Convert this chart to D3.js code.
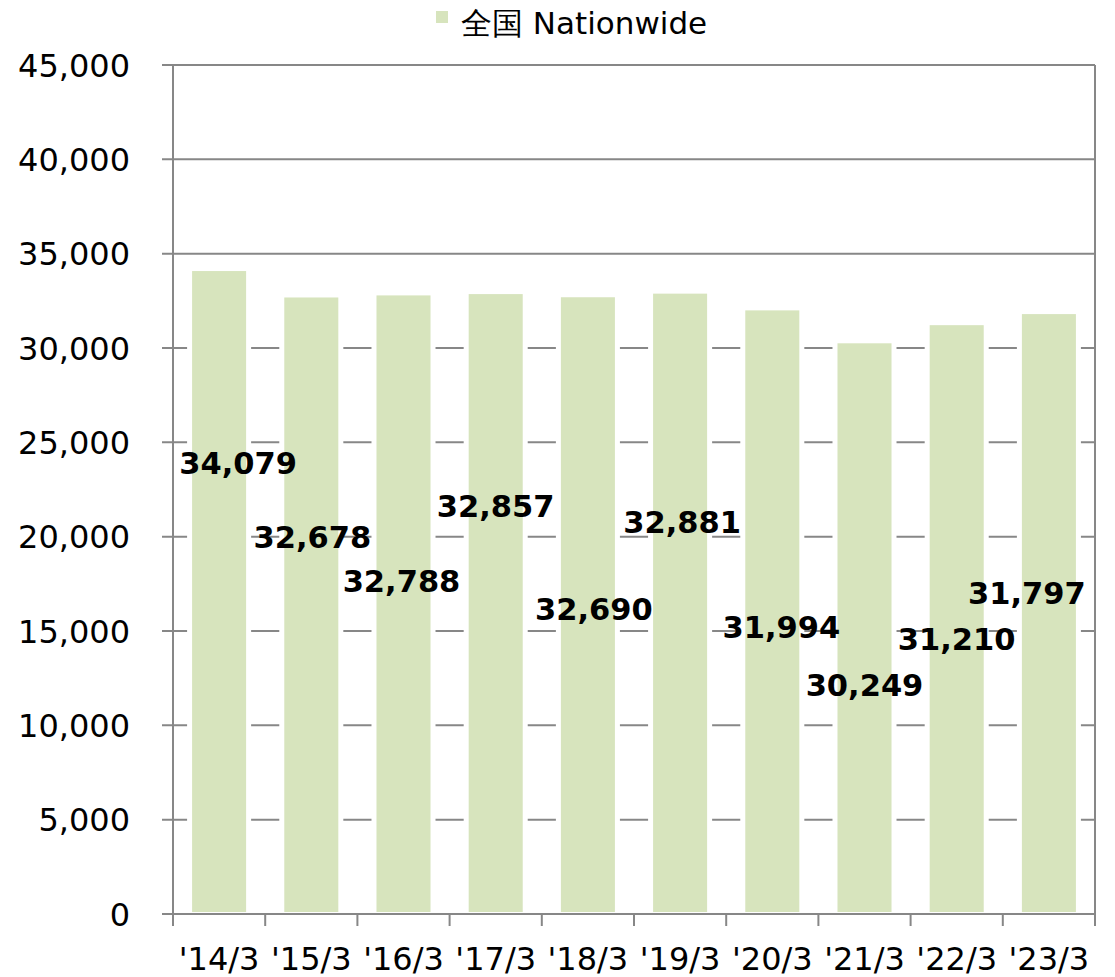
<!DOCTYPE html>
<html>
<head>
<meta charset="utf-8">
<script src="https://cdn.jsdelivr.net/npm/d3@7"></script>
<style>
    body { margin: 0; background: #fff; }
    svg { display: block; font-family: 'DejaVu Sans', Verdana, sans-serif; }
</style>
</head>
<body>
<svg id="chart"></svg>
<script>
const categories = ["'14/3", "'15/3", "'16/3", "'17/3", "'18/3", "'19/3", "'20/3", "'21/3", "'22/3", "'23/3"]
const values = [34079, 32678, 32788, 32857, 32690, 32881, 31994, 30249, 31210, 31797]
const yTicks = [0, 5000, 10000, 15000, 20000, 25000, 30000, 35000, 40000, 45000]
const seriesName = '全国 Nationwide'

// where the data labels sit (in axis units) and small sideways nudges, as in the original
const labelAnchor = [23900, 20000, 17630, 21620, 16170, 20790, 15230, 12140, 14580, 17000]
const labelShift = [19, 1, -2, 0, 6, 2, 9, 0, 0, -22]

const chartConfig = {
    barColor: '#d7e4bd',
    lineColor: '#878787',
    width: 1115,
    height: 977,
}

const PADDING = { TOP: 65, RIGHT: 20, BOTTOM: 63, LEFT: 173 }

const svg = d3.select('#chart')
    .attr('width', chartConfig.width)
    .attr('height', chartConfig.height)

const leftSide = PADDING.LEFT
const rightSide = chartConfig.width - PADDING.RIGHT
const topSide = PADDING.TOP
const bottomSide = chartConfig.height - PADDING.BOTTOM

const xScale = d3.scaleBand().domain(categories).range([leftSide, rightSide]).paddingInner(0.414).paddingOuter(0.207)
const yScale = d3.scaleLinear().domain([0, 45000]).range([bottomSide, topSide])
const step = xScale.step()

// gridlines (behind the bars)
svg.append('g')
    .selectAll('line')
    .data(yTicks)
    .join('line')
    .attr('x1', leftSide - 11)
    .attr('x2', rightSide)
    .attr('y1', d => yScale(d))
    .attr('y2', d => yScale(d))
    .attr('stroke', chartConfig.lineColor)
    .attr('stroke-width', 2)

// bars, with a white halo that breaks the gridlines
const bars = svg.append('g')
bars.selectAll('rect.halo')
    .data(values)
    .join('rect')
    .attr('class', 'halo')
    .attr('x', (d, i) => xScale(categories[i]) - 5)
    .attr('width', xScale.bandwidth() + 10)
    .attr('y', d => yScale(d) - 1)
    .attr('height', d => yScale(0) - yScale(d) - 1)
    .attr('fill', '#fff')
bars.selectAll('rect.bar')
    .data(values)
    .join('rect')
    .attr('class', 'bar')
    .attr('x', (d, i) => xScale(categories[i]))
    .attr('width', xScale.bandwidth())
    .attr('y', d => yScale(d))
    .attr('height', d => yScale(0) - yScale(d) - 2)
    .attr('fill', chartConfig.barColor)

// axes frame
const frame = svg.append('g').attr('stroke', chartConfig.lineColor).attr('stroke-width', 2)
frame.append('line').attr('x1', leftSide).attr('x2', leftSide).attr('y1', topSide).attr('y2', bottomSide)
frame.append('line').attr('x1', rightSide).attr('x2', rightSide).attr('y1', topSide).attr('y2', bottomSide + 12)
frame.append('line').attr('x1', leftSide - 11).attr('x2', rightSide).attr('y1', bottomSide).attr('y2', bottomSide)

// x ticks at the band boundaries
frame.selectAll('line.xtick')
    .data(d3.range(categories.length + 1))
    .join('line')
    .attr('class', 'xtick')
    .attr('x1', i => leftSide + i * step)
    .attr('x2', i => leftSide + i * step)
    .attr('y1', bottomSide)
    .attr('y2', bottomSide + 12)

// y tick labels
svg.append('g')
    .selectAll('text')
    .data(yTicks)
    .join('text')
    .attr('x', leftSide - 43)
    .attr('y', d => yScale(d))
    .attr('dy', '0.36em')
    .attr('text-anchor', 'end')
    .attr('font-size', 32)
    .attr('fill', '#000')
    .text(d => d3.format(',')(d))

// x tick labels
svg.append('g')
    .selectAll('text')
    .data(categories)
    .join('text')
    .attr('x', d => xScale(d) + xScale.bandwidth() / 2)
    .attr('y', bottomSide + 56)
    .attr('text-anchor', 'middle')
    .attr('font-size', 32)
    .attr('fill', '#000')
    .text(d => d)

// data labels
svg.append('g')
    .selectAll('text')
    .data(values)
    .join('text')
    .attr('x', (d, i) => xScale(categories[i]) + xScale.bandwidth() / 2 + labelShift[i])
    .attr('y', (d, i) => yScale(labelAnchor[i]))
    .attr('dy', '0.36em')
    .attr('text-anchor', 'middle')
    .attr('font-size', 30.5)
    .attr('font-weight', 'bold')
    .attr('fill', '#000')
    .text(d => d3.format(',')(d))

// legend
const legend = svg.append('g').attr('transform', 'translate(436,0)')
legend.append('rect')
    .attr('x', 0).attr('y', 11)
    .attr('width', 12).attr('height', 12)
    .attr('fill', chartConfig.barColor)
legend.append('text')
    .attr('x', 25)
    .attr('y', 34)
    .attr('font-size', 31)
    .attr('fill', '#000')
    .text(seriesName)
</script>
</body>
</html>
